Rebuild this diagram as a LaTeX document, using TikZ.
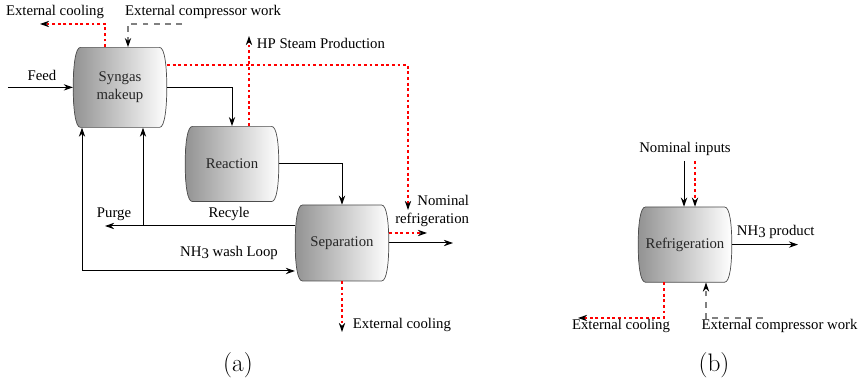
\documentclass[tikz,border=0pt]{standalone}
\usepackage{fontspec}
\newfontfamily\labelfont{Liberation Serif}
\usetikzlibrary{arrows.meta,calc}

\tikzset{
  >={Stealth[length=6.5pt,width=4.5pt]},
  vesselfill/.style={draw=black!70, line width=0.5pt, left color=gray!85, right color=white},
  vessel/.style={minimum width=2.34cm, inner sep=0, align=center, text=black!85},
  flow/.style={->, line width=0.7pt},
  heat/.style={-{Stealth[length=6.5pt,width=4.5pt,black]}, red, line width=0.8pt, dash pattern=on 2pt off 2pt},
  work/.style={-{Stealth[length=6.5pt,width=4.5pt,black]}, black!50, line width=0.8pt, dash pattern=on 4pt off 4pt},
  caption/.style={font=\rmfamily\fontsize{18}{21}\selectfont},
}

% process unit: name, centre, half height, text
\newcommand{\vessel}[4]{%
  \path[vesselfill] ($(#2)+(-0.99,#3)$) -- ($(#2)+(0.99,#3)$)
    .. controls +(0.13,0) and +(0,0.5) .. ($(#2)+(1.17,0)$)
    .. controls +(0,-0.5) and +(0.13,0) .. ($(#2)+(0.99,-#3)$)
    -- ($(#2)+(-0.99,-#3)$)
    .. controls +(-0.13,0) and +(0,-0.5) .. ($(#2)+(-1.17,0)$)
    .. controls +(0,0.5) and +(-0.13,0) .. cycle;
  \node[vessel, minimum height=#3*2cm] (#1) at (#2) {#4};
}

\begin{document}
\begin{tikzpicture}[font=\labelfont\fontsize{10.5}{12.6}\selectfont]
\useasboundingbox (0,0) rectangle (21.5,9.625);
% units
\vessel{syn}{3.0,7.44}{1.0}{Syngas\\makeup}
\vessel{rea}{5.8,5.525}{0.94}{Reaction}
\vessel{sep}{8.55,3.55}{0.95}{Separation}
\vessel{ref}{17.125,3.51}{0.94}{Refrigeration}

% (a) main loop
\coordinate (feed) at (0.2,7.44);
\draw[flow] (feed) -- (syn.west);
\node (feedlab) at (1.05,7.75) {Feed};
\draw[flow] (syn.east) -| (rea.north);
\draw[flow] (rea.east) -| (sep.north);
\coordinate (purge) at (2.625,3.975);
\draw[flow] ([yshift=0.425cm]sep.west) -- (purge);
\coordinate (rec) at (3.575,3.975);
\draw[flow] (rec) -- (rec |- syn.south);
\node (purgelab) at (2.85,4.275) {Purge};
\node (reclab) at (5.725,4.275) {Recyle};
\coordinate (wash) at (2.05,2.85);
\draw[flow, <->] (wash |- syn.south) -- (wash) -- (wash -| sep.west);
\node (washlab) at (5.725,3.3) {NH\raisebox{-.3ex}{3} wash Loop};
\coordinate (prod) at (11.325,3.55);
\draw[flow] (sep.east) -- (prod);

% (a) utilities
\coordinate (coolA) at (2.625,9.025);
\coordinate (coolAend) at (1.0,9.025);
\draw[heat] (coolA |- syn.north) -- (coolA) -- (coolAend);
\node (coolAlab) at (1.375,9.325) {External cooling};
\coordinate (workA) at (4.55,9.025);
\coordinate (workAc) at (3.2,9.025);
\draw[work] (workA) -- (workAc) -- (workAc |- syn.north);
\node (workAlab) at (5.075,9.325) {External compressor work};
\coordinate (steam) at (6.225,8.725);
\draw[heat] (steam |- rea.north) -- (steam);
\node[anchor=west] (steamlab) at (6.3,8.55) {HP Steam Production};
\coordinate (refA) at (10.2,4.375);
\draw[heat] ([yshift=0.56cm]syn.east) -| (refA);
\coordinate (refB) at (10.675,3.8);
\draw[heat] ([yshift=0.25cm]sep.east) -- (refB);
\node[align=right, anchor=east] (reflab) at (11.85,4.35) {Nominal\\refrigeration};
\coordinate (coolB) at (8.55,1.325);
\draw[heat] (sep.south) -- (coolB);
\node[anchor=west] (coolBlab) at (8.7,1.5) {External cooling};

% (b) refrigeration
\node (nomlab) at (17.125,5.9) {Nominal inputs};
\coordinate (nomA) at (17.1,5.6);
\coordinate (nomB) at (17.375,5.6);
\draw[flow] (nomA) -- (nomA |- ref.north);
\draw[heat] (nomB) -- (nomB |- ref.north);
\coordinate (nh3) at (19.95,3.51);
\draw[flow] (ref.east) -- (nh3);
\node[anchor=west] (nh3lab) at (18.3,3.825) {NH\raisebox{-.3ex}{3} product};
\coordinate (coolC) at (16.6,1.675);
\coordinate (coolCend) at (14.45,1.675);
\draw[heat] (coolC |- ref.south) -- (coolC) -- (coolCend);
\node (coolClab) at (15.525,1.475) {External cooling};
\coordinate (workB) at (19.075,1.675);
\coordinate (workBc) at (17.65,1.675);
\draw[work] (workB) -- (workBc) -- (workBc |- ref.south);
\node (workBlab) at (19.49,1.475) {External compressor work};

% captions
\node[caption] (capa) at (5.95,0.5) {(a)};
\node[caption] (capb) at (17.85,0.5) {(b)};
\end{tikzpicture}
\end{document}
